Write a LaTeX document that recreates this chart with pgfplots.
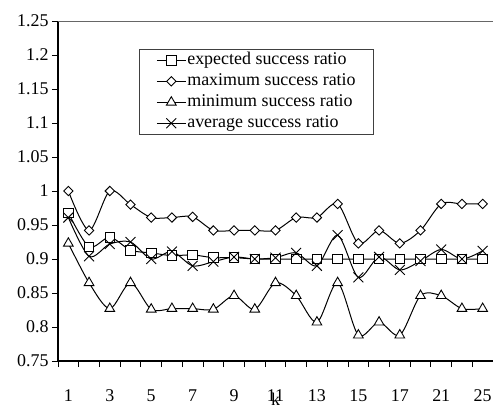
\documentclass[border=0pt]{standalone}
\usepackage{pgfplots}
\pgfplotsset{compat=1.18}
\usepackage{fontspec}
\setmainfont{Liberation Serif}

% success ratios for k = 1..17, 19, 21, 23, 25 (plotted at positions 0..20)
\pgfplotstableread{
idx expected maximum minimum average
0  0.968 1.000 0.923 0.961
1  0.918 0.942 0.865 0.904
2  0.932 1.000 0.827 0.922
3  0.913 0.980 0.865 0.925
4  0.909 0.961 0.826 0.900
5  0.905 0.961 0.827 0.911
6  0.906 0.962 0.827 0.890
7  0.902 0.942 0.826 0.896
8  0.902 0.942 0.846 0.903
9  0.900 0.942 0.826 0.900
10 0.900 0.942 0.865 0.902
11 0.900 0.961 0.846 0.909
12 0.900 0.961 0.807 0.890
13 0.900 0.981 0.865 0.935
14 0.900 0.923 0.788 0.873
15 0.900 0.942 0.807 0.903
16 0.900 0.923 0.788 0.884
17 0.900 0.942 0.846 0.897
18 0.900 0.981 0.846 0.914
19 0.900 0.981 0.827 0.900
20 0.900 0.981 0.827 0.912
}\ratios

\begin{document}
\begin{tikzpicture}
\useasboundingbox (-58bp,-48bp) rectangle (435bp,361bp);
\begin{axis}[
  scale only axis,
  width=435bp, height=340bp,
  xmin=-0.5, xmax=20.5,
  ymin=0.75, ymax=1.25,
  font=\fontsize{18}{21}\selectfont,
  /pgf/number format/assume math mode=true,
  axis x line*=bottom, axis y line*=left,
  axis line style={line width=1.5bp, black},
  tick align=outside,
  tick style={black, line width=0.8bp},
  major tick length=6bp,
  minor tick length=6bp,
  xtick={0,2,...,20},
  xticklabels={1,3,5,7,9,11,13,15,17,21,25},
  major x tick style={draw=none},
  minor xtick={-0.5,0.5,...,20.5},
  xticklabel style={anchor=base, yshift=-34bp},
  ytick={0.75,0.8,0.85,0.9,0.95,1,1.05,1.1,1.15,1.2,1.25},
  yticklabel style={/pgf/number format/precision=2},
  xlabel={k},
  xlabel style={at={(axis description cs:0.5,0)}, anchor=base, yshift=-44.5bp},
  legend style={at={(axis description cs:0.186,0.918)}, anchor=north west,
    draw=black!75, line width=0.8bp, inner xsep=17bp, inner ysep=0.5bp,
    row sep=0pt, column sep=0pt,
    nodes={inner xsep=1bp, inner ysep=2bp, text height=13bp, text depth=4bp},
    font=\fontsize{18}{21}\selectfont},
  legend cell align=left,
  legend image code/.code={
    \draw[#1, mark repeat=2, mark phase=2] plot coordinates {(0bp,0bp) (14.5bp,0bp) (29bp,0bp)};
  },
  every axis plot/.append style={black, line width=1bp, smooth, tension=0.5},
]
\addplot[mark=square*, mark size=4.8bp,
  mark options={solid, fill=white, line width=0.9bp}] table[x=idx, y=expected] {\ratios};
\addlegendentry{expected success ratio}
\addplot[mark=square*, mark size=3.3bp,
  mark options={solid, fill=white, line width=0.9bp, rotate=45}] table[x=idx, y=maximum] {\ratios};
\addlegendentry{maximum success ratio}
\addplot[mark=triangle*, mark size=5.6bp,
  mark options={solid, fill=white, line width=0.9bp}] table[x=idx, y=minimum] {\ratios};
\addlegendentry{minimum success ratio}
\addplot[mark=x, mark size=7bp,
  mark options={solid, line width=0.9bp}] table[x=idx, y=average] {\ratios};
\addlegendentry{average success ratio}
\node[anchor=base west, xshift=4bp, yshift=5bp] at (rel axis cs:0,1) {success ratio};
\end{axis}
% thin upper frame of the plot area
\draw[black!60, line width=0.8bp] (0bp,340bp) -- (435bp,340bp);
\end{tikzpicture}
\end{document}
